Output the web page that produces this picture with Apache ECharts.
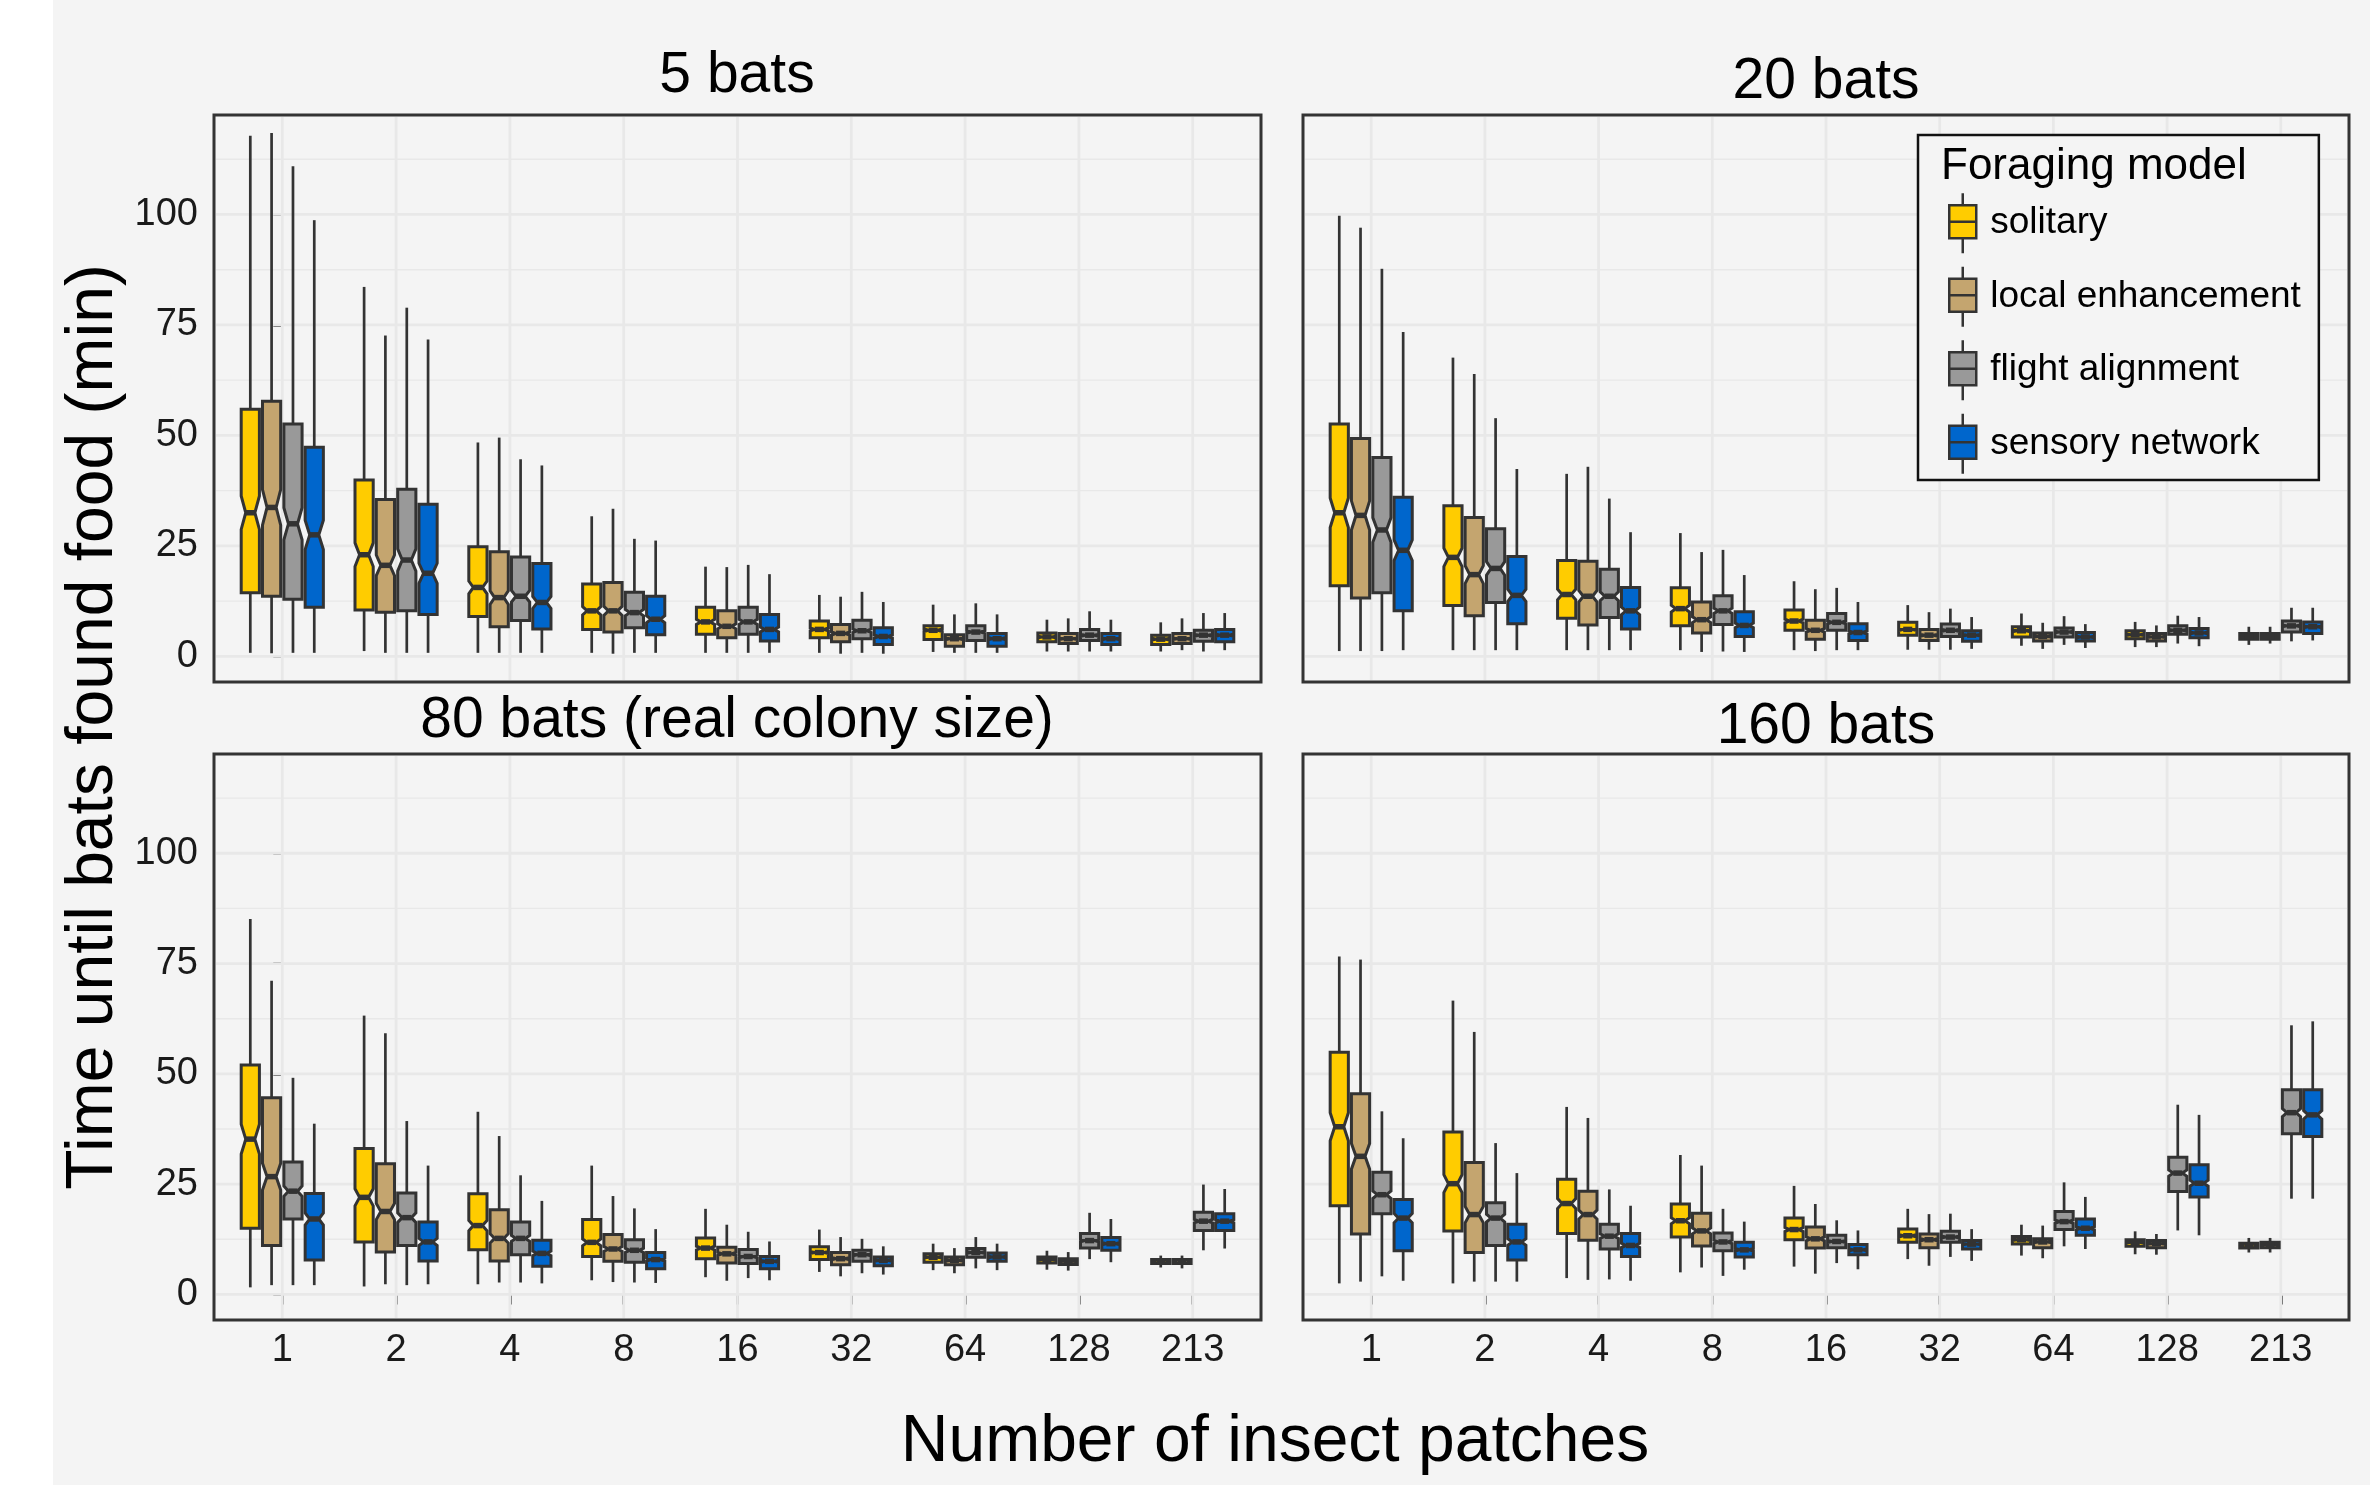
<!DOCTYPE html>
<html>
<head>
<meta charset="utf-8">
<script src="https://cdn.jsdelivr.net/npm/echarts@6/dist/echarts.min.js"></script>
<style>
html,body{margin:0;padding:0;background:#ffffff;}
#chart{width:2370px;height:1485px;}
</style>
</head>
<body>
<div id="chart"></div>
<script>
// ---------- data ----------
const CATEGORIES = ['1', '2', '4', '8', '16', '32', '64', '128', '213'];
const MODELS = ['solitary', 'local enhancement', 'flight alignment', 'sensory network'];
const PANEL_TITLES = ['5 bats', '20 bats', '80 bats (real colony size)', '160 bats'];
const Y_TICKS = [0, 25, 50, 75, 100];
const Y_MINOR = [12.5, 37.5, 62.5, 87.5, 112.5];
const X_AXIS_TITLE = 'Number of insect patches';
const Y_AXIS_TITLE = 'Time until bats found food (min)';
const LEGEND_TITLE = 'Foraging model';
const N_RUNS = 300; // simulations per box (used for notch size)

// each entry: [lower whisker, Q1, median, Q3, upper whisker] per category
const bats5_solitary = [[0.8,14.4,32.5,55.9,117.8],[1.2,10.5,23.0,39.9,83.6],[0.8,9.0,15.6,24.8,48.4],[0.8,6.1,10.3,16.4,31.7],[0.8,5.0,7.8,11.1,20.3],[0.8,4.2,6.1,8.0,13.9],[1.0,3.8,5.9,6.9,11.7],[1.1,3.3,4.4,5.3,8.3],[1.1,2.7,3.9,4.8,7.7]];
const bats5_local = [[0.7,13.6,33.7,57.7,118.4],[0.8,10.0,20.6,35.5,72.6],[0.8,6.7,13.3,23.7,49.5],[0.6,5.5,10.3,16.7,33.4],[0.8,4.2,6.8,10.3,20.2],[0.6,3.3,5.2,7.2,13.5],[0.8,2.3,4.0,4.9,9.5],[1.1,2.9,4.0,5.2,8.6],[1.4,2.9,4.0,5.2,8.6]];
const bats5_flight = [[0.8,12.9,30.0,52.6,110.9],[0.8,10.3,21.8,37.8,78.9],[0.8,8.1,13.6,22.5,44.6],[0.8,6.5,9.9,14.5,26.6],[0.8,5.0,7.8,11.1,20.7],[0.8,4.0,5.8,8.2,14.6],[0.8,3.6,5.5,6.9,12.0],[1.1,3.6,4.8,6.1,10.2],[1.1,3.4,4.8,5.9,9.8]];
const bats5_sensory = [[0.8,11.1,27.5,47.3,98.7],[0.8,9.5,18.8,34.4,71.7],[0.8,6.2,12.2,21.0,43.2],[0.8,4.9,8.4,13.6,26.2],[0.8,3.5,6.1,9.5,18.6],[0.6,2.7,4.5,6.5,12.3],[0.8,2.3,4.0,5.2,9.5],[1.1,2.7,4.0,5.2,8.3],[1.4,3.3,4.8,6.1,9.8]];

const bats20_solitary = [[1.2,16.0,32.5,52.6,99.7],[1.4,11.5,22.4,34.1,67.6],[1.4,8.6,14.0,21.7,41.3],[1.4,6.9,10.8,15.5,27.9],[1.4,5.9,8.0,10.5,17.0],[1.5,4.8,6.1,7.7,11.6],[2.4,4.4,5.8,6.7,9.7],[2.1,4.0,4.9,5.8,7.8],[2.6,3.9,4.5,5.2,6.7]];
const bats20_local = [[1.2,13.2,31.9,49.3,97.0],[1.4,9.2,18.5,31.4,63.9],[1.4,7.1,13.6,21.5,42.9],[1.0,5.3,8.3,12.3,23.6],[1.2,3.9,5.9,8.2,15.2],[1.5,3.6,4.8,6.1,10.0],[1.7,3.5,4.5,5.3,7.6],[2.1,3.5,4.4,5.2,7.0],[2.9,3.9,4.5,5.2,6.7]];
const bats20_flight = [[1.2,14.4,28.6,45.0,87.7],[1.4,12.2,19.9,28.9,53.9],[1.4,8.8,13.6,19.7,35.7],[1.1,7.2,10.3,13.7,24.1],[1.4,5.9,7.7,9.7,15.5],[1.5,4.5,5.9,7.3,10.8],[2.6,4.4,5.5,6.4,9.1],[2.9,5.0,5.9,6.9,9.2],[3.4,5.5,6.9,8.0,11.0]];
const bats20_sensory = [[1.4,10.3,24.0,36.0,73.4],[1.4,7.4,13.8,22.6,42.4],[1.4,6.2,10.3,15.6,28.1],[1.0,4.5,7.0,10.1,18.4],[1.4,3.6,5.4,7.4,12.3],[1.7,3.4,4.8,5.8,8.9],[1.9,3.5,4.4,5.4,7.3],[2.3,4.2,5.3,6.3,8.9],[3.6,5.2,6.7,7.8,11.0]];

const bats80_solitary = [[1.6,15.0,35.2,52.0,85.1],[1.8,11.9,22.0,33.1,63.2],[2.3,10.1,15.6,22.8,41.4],[3.2,8.6,11.8,17.0,29.2],[3.9,8.1,10.5,12.8,19.4],[5.1,7.9,9.5,10.8,14.7],[5.5,7.3,8.4,9.2,11.5],[5.6,7.1,7.9,8.5,9.9],[6.1,7.0,7.4,7.9,8.8]];
const bats80_local = [[2.1,11.1,26.7,44.6,71.1],[2.3,9.6,18.8,29.6,59.2],[2.7,7.6,12.7,19.2,35.9],[2.8,7.5,10.3,13.6,22.3],[3.1,7.1,9.2,10.7,15.8],[4.1,6.7,8.1,9.5,13.0],[4.8,6.7,7.7,8.5,10.5],[5.4,6.8,7.5,8.1,9.6],[5.9,7.0,7.4,7.9,8.8]];
const bats80_flight = [[2.1,17.1,23.4,30.0,49.1],[2.1,11.1,17.4,23.0,39.3],[2.7,9.0,12.7,16.4,27.0],[2.7,7.3,10.0,12.4,19.5],[3.7,7.0,8.6,10.2,14.2],[4.8,7.5,9.0,10.0,12.6],[5.9,8.4,9.5,10.4,13.0],[8.0,10.5,12.2,13.8,18.5],[10.0,14.5,16.6,18.6,24.9]];
const bats80_sensory = [[2.1,7.8,17.1,22.9,38.7],[2.3,7.6,11.9,16.4,29.2],[2.5,6.4,9.3,12.3,21.2],[2.6,5.8,7.9,9.5,14.8],[3.2,5.8,7.5,8.6,12.0],[4.5,6.5,7.7,8.5,10.9],[5.5,7.5,8.5,9.4,11.5],[7.3,10.0,11.5,12.9,17.1],[10.4,14.5,16.6,18.3,23.9]];

const bats160_solitary = [[2.5,20.1,38.0,54.9,76.6],[2.5,14.4,25.1,36.8,66.6],[3.7,13.8,20.6,26.1,42.5],[5.0,13.0,16.7,20.5,31.6],[6.3,12.4,14.7,17.3,24.6],[8.0,11.8,13.3,14.8,19.4],[8.8,11.4,12.4,13.1,15.8],[9.1,10.9,11.8,12.4,14.3],[9.5,10.5,11.1,11.6,12.8]];
const bats160_local = [[2.9,13.7,31.3,45.5,75.9],[2.9,9.5,18.1,29.9,59.5],[3.3,12.3,18.1,23.4,40.0],[6.1,11.0,14.4,18.4,29.2],[4.7,10.5,12.6,15.3,20.5],[6.5,10.6,12.4,13.7,18.2],[8.2,10.6,11.9,12.6,15.6],[9.0,10.6,11.5,12.2,13.7],[9.5,10.6,11.3,11.8,12.8]];
const bats160_flight = [[4.1,18.3,22.6,27.7,41.5],[2.9,11.1,17.3,20.8,34.3],[3.4,10.3,13.2,15.9,23.8],[4.2,9.9,11.9,13.9,19.4],[7.1,10.6,12.0,13.4,16.8],[8.5,11.8,13.0,14.3,18.3],[10.9,14.7,16.5,18.8,25.4],[14.5,23.3,27.5,31.1,43.0],[21.7,36.4,41.2,46.4,61.0]];
const bats160_sensory = [[3.1,9.9,17.3,21.5,35.4],[2.9,7.8,11.9,15.9,27.5],[3.1,8.6,11.1,13.8,20.1],[5.6,8.5,10.1,11.8,16.5],[5.7,9.0,10.1,11.3,14.5],[7.6,10.3,11.4,12.2,14.8],[10.3,13.4,15.0,17.1,22.1],[13.4,22.1,25.2,29.4,40.7],[21.7,35.8,40.7,46.4,61.9]];

const PANEL_DATA = [
  [bats5_solitary, bats5_local, bats5_flight, bats5_sensory],
  [bats20_solitary, bats20_local, bats20_flight, bats20_sensory],
  [bats80_solitary, bats80_local, bats80_flight, bats80_sensory],
  [bats160_solitary, bats160_local, bats160_flight, bats160_sensory]
];

// ---------- styling / layout ----------
const FONT = "'Liberation Sans', Arial, Helvetica, sans-serif";
const COLORS = ['#FFCC00', '#C4A56F', '#999999', '#0066CC'];
const OUTLINE = '#333333';
const BG = '#f4f4f4';
const GRID_LINE = '#e8e8e8';
const DODGE = [-0.281, -0.094, 0.094, 0.281];
const BOX_WIDTH = 0.16;
const NOTCH_INDENT = 0.25;
const Y_MIN = -5.8, Y_MAX = 122.5;
const X_MIN = -0.6, X_MAX = 8.6;
const GRIDS = [
  {left: 214, top: 115, width: 1047, height: 567},
  {left: 1303, top: 115, width: 1046, height: 567},
  {left: 214, top: 754, width: 1047, height: 566},
  {left: 1303, top: 754, width: 1046, height: 566}
];
const TITLE_POS = [[737, 76], [1826, 82], [737, 721], [1826, 727]];

function renderGridLines(params, api) {
  const cs = params.coordSys;
  const x0 = cs.x + 2, x1 = cs.x + cs.width - 2;
  const y0 = cs.y + 2, y1 = cs.y + cs.height - 2;
  const children = [];
  Y_MINOR.forEach(function (v) {
    const y = api.coord([0, v])[1];
    children.push({type: 'line', shape: {x1: x0, y1: y, x2: x1, y2: y}, style: {stroke: GRID_LINE, lineWidth: 1.4}});
  });
  Y_TICKS.forEach(function (v) {
    const y = api.coord([0, v])[1];
    children.push({type: 'line', shape: {x1: x0, y1: y, x2: x1, y2: y}, style: {stroke: GRID_LINE, lineWidth: 2.8}});
  });
  CATEGORIES.forEach(function (c, i) {
    const x = api.coord([i, 0])[0];
    children.push({type: 'line', shape: {x1: x, y1: y0, x2: x, y2: y1}, style: {stroke: GRID_LINE, lineWidth: 2.8}});
  });
  return {type: 'group', children: children};
}

function makeBoxRenderer(m) {
  return function (params, api) {
    const c = api.value(0);
    const lw = api.value(1), q1 = api.value(2), med = api.value(3), q3 = api.value(4), uw = api.value(5);
    const xc = c + DODGE[m];
    const xl = xc - BOX_WIDTH / 2, xr = xc + BOX_WIDTH / 2;
    const ind = BOX_WIDTH * NOTCH_INDENT;
    const nh = 1.58 * (q3 - q1) / Math.sqrt(N_RUNS);
    const P = function (x, y) { return api.coord([x, y]); };
    const poly = [P(xl, q1), P(xr, q1), P(xr, med - nh), P(xr - ind, med), P(xr, med + nh),
                  P(xr, q3), P(xl, q3), P(xl, med + nh), P(xl + ind, med), P(xl, med - nh)];
    const top = P(xc, uw), q3p = P(xc, q3), q1p = P(xc, q1), bot = P(xc, lw);
    const mL = P(xl + ind, med), mR = P(xr - ind, med);
    return {
      type: 'group',
      children: [
        {type: 'line', shape: {x1: top[0], y1: top[1], x2: q3p[0], y2: q3p[1]}, style: {stroke: OUTLINE, lineWidth: 2.7}},
        {type: 'line', shape: {x1: q1p[0], y1: q1p[1], x2: bot[0], y2: bot[1]}, style: {stroke: OUTLINE, lineWidth: 2.7}},
        {type: 'polygon', shape: {points: poly}, style: {fill: COLORS[m], stroke: OUTLINE, lineWidth: 3, lineJoin: 'miter'}},
        {type: 'line', shape: {x1: mL[0], y1: mL[1], x2: mR[0], y2: mR[1]}, style: {stroke: OUTLINE, lineWidth: 5.5}}
      ]
    };
  };
}

const grid = [], xAxis = [], yAxis = [], series = [];
GRIDS.forEach(function (g, p) {
  grid.push(Object.assign({
    show: true, backgroundColor: BG, borderColor: OUTLINE, borderWidth: 3,
    containLabel: false, outerBoundsMode: 'none'
  }, g));
  const bottomRow = p >= 2, leftCol = p % 2 === 0;
  xAxis.push({
    gridIndex: p, type: 'value', min: X_MIN, max: X_MAX, show: bottomRow,
    axisLine: {show: false}, splitLine: {show: false},
    axisTick: {show: bottomRow, customValues: CATEGORIES.map(function (c, i) { return i; }), length: 10, lineStyle: {color: OUTLINE, width: 2.5}},
    axisLabel: {show: bottomRow, customValues: CATEGORIES.map(function (c, i) { return i; }),
      formatter: function (v) { return CATEGORIES[Math.round(v)]; },
      fontSize: 38, color: '#1a1a1a', fontFamily: FONT, margin: 12}
  });
  yAxis.push({
    gridIndex: p, type: 'value', min: Y_MIN, max: Y_MAX, show: leftCol,
    axisLine: {show: false}, splitLine: {show: false},
    axisTick: {show: leftCol, customValues: Y_TICKS, length: 9, lineStyle: {color: OUTLINE, width: 2.5}},
    axisLabel: {show: leftCol, customValues: Y_TICKS, fontSize: 38, color: '#1a1a1a', fontFamily: FONT, margin: 16}
  });
  series.push({
    type: 'custom', name: 'grid-' + p, xAxisIndex: p, yAxisIndex: p, z: 1, silent: true,
    renderItem: renderGridLines, data: [[0, 0]], encode: {x: 0, y: 1}
  });
  MODELS.forEach(function (name, m) {
    series.push({
      type: 'custom', name: name, xAxisIndex: p, yAxisIndex: p, z: 3,
      itemStyle: {color: COLORS[m], borderColor: OUTLINE, borderWidth: 2.5},
      renderItem: makeBoxRenderer(m),
      encode: {x: 0, y: [1, 2, 3, 4, 5]},
      data: PANEL_DATA[p][m].map(function (row, i) { return [i].concat(row); })
    });
  });
});

const graphic = [
  {type: 'rect', shape: {x: 0, y: 0, width: 53, height: 1485}, style: {fill: '#ffffff'}, z: -10, silent: true},
  {type: 'text', x: 1275, y: 1443, style: {text: X_AXIS_TITLE, fontSize: 66, fontFamily: FONT, fill: '#000',
    align: 'center', verticalAlign: 'middle', textAlign: 'center', textVerticalAlign: 'middle'}},
  {type: 'text', x: 94, y: 727, rotation: Math.PI / 2, style: {text: Y_AXIS_TITLE, fontSize: 66, fontFamily: FONT, fill: '#000',
    align: 'center', verticalAlign: 'middle', textAlign: 'center', textVerticalAlign: 'middle'}},
  {type: 'text', x: 1941, y: 167, z: 20, style: {text: LEGEND_TITLE, fontSize: 44, fontFamily: FONT, fill: '#000',
    align: 'left', verticalAlign: 'middle', textAlign: 'left', textVerticalAlign: 'middle'}}
];
PANEL_TITLES.forEach(function (t, p) {
  graphic.push({type: 'text', x: TITLE_POS[p][0], y: TITLE_POS[p][1], style: {text: t, fontSize: 57, fontFamily: FONT, fill: '#000',
    align: 'center', verticalAlign: 'middle', textAlign: 'center', textVerticalAlign: 'middle'}});
});

const option = {
  backgroundColor: BG,
  animation: false,
  grid: grid,
  xAxis: xAxis,
  yAxis: yAxis,
  legend: {
    data: MODELS, orient: 'vertical', left: 1918, top: 135,
    padding: [57, 18, 5, 30], itemWidth: 27, itemHeight: 60, itemGap: 11,
    icon: 'path://M0,12L27,12L27,45L0,45Z M13.5,0L13.5,12 M13.5,45L13.5,60 M0,28.5L27,28.5',
    itemStyle: {borderColor: OUTLINE, borderWidth: 2.5},
    textStyle: {fontSize: 37, color: '#000', fontFamily: FONT, padding: [0, 0, 0, 9]},
    borderColor: '#111', borderWidth: 2.5, backgroundColor: BG,
    selectedMode: false, z: 10
  },
  graphic: graphic,
  series: series
};

const chart = echarts.init(document.getElementById('chart'), null, {renderer: 'canvas', width: 2370, height: 1485});
chart.setOption(option);
</script>
</body>
</html>
